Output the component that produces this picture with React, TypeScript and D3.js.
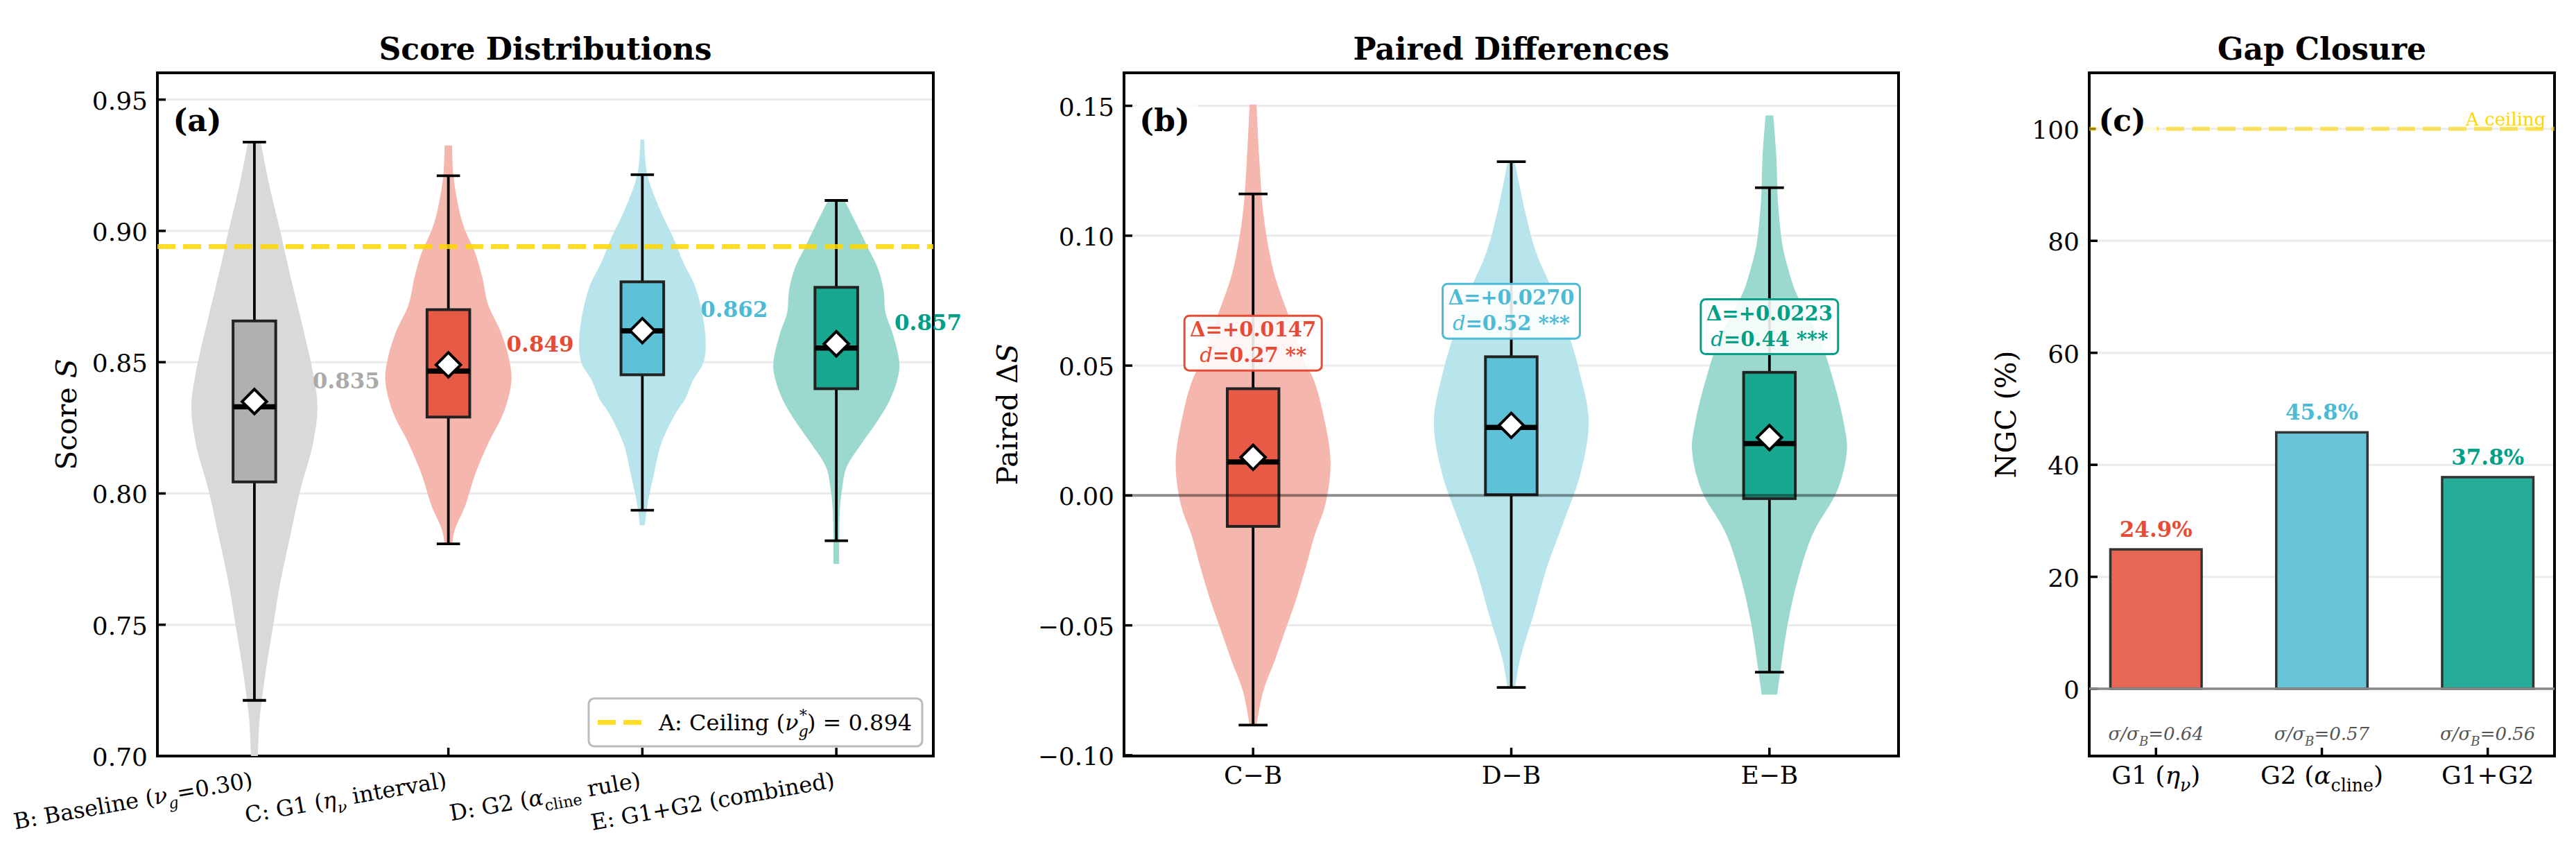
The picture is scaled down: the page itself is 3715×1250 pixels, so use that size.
import React from 'react';
import * as d3 from 'd3';

const FONT = '"DejaVu Serif", "Liberation Serif", serif';

type Pt = [number, number]; // [value, relative violin width]
type Seg = { t: string; it?: boolean; sub?: boolean; sup?: boolean; dx?: number };

// ---------- (a) score distributions ----------
const scoreMean = [0.835, 0.849, 0.862, 0.857];
const scoreMedian = [0.833, 0.8466, 0.8619, 0.8554];
const scoreQ1 = [0.8044, 0.8291, 0.8452, 0.8399];
const scoreQ3 = [0.8657, 0.870, 0.8806, 0.8785];
const scoreLo = [0.7212, 0.7808, 0.7936, 0.782];
const scoreHi = [0.9338, 0.921, 0.9214, 0.9116];
const ceilingScore = 0.894;
const scoreTicks = [0.70, 0.75, 0.80, 0.85, 0.90, 0.95];

const violinB: Pt[] = [
  [0.934, 0.10], [0.917, 0.24], [0.900, 0.41], [0.887, 0.53], [0.867, 0.73], [0.846, 0.93],
  [0.833, 1.0], [0.819, 0.93], [0.8015, 0.73], [0.784, 0.57], [0.766, 0.41], [0.7485, 0.29],
  [0.7306, 0.17], [0.713, 0.08], [0.695, 0.05],
];
const violinC: Pt[] = [
  [0.9325, 0.06], [0.921, 0.08], [0.907, 0.18], [0.900, 0.27], [0.892, 0.42], [0.882, 0.54],
  [0.872, 0.63], [0.8616, 0.83], [0.8515, 0.96], [0.843, 1.0], [0.831, 0.88], [0.819, 0.63],
  [0.807, 0.42], [0.7955, 0.27], [0.786, 0.10], [0.7808, 0.06],
];
const violinD: Pt[] = [
  [0.9348, 0.03], [0.9214, 0.08], [0.907, 0.30], [0.898, 0.48], [0.888, 0.65], [0.878, 0.85],
  [0.860, 1.0], [0.850, 0.97], [0.843, 0.80], [0.836, 0.68], [0.831, 0.54], [0.819, 0.30],
  [0.807, 0.18], [0.7955, 0.08], [0.7879, 0.04],
];
const violinE: Pt[] = [
  [0.9116, 0.13], [0.9026, 0.32], [0.8941, 0.49], [0.8857, 0.66], [0.8773, 0.75], [0.8689, 0.78],
  [0.8604, 0.90], [0.8495, 1.0], [0.8436, 0.97], [0.8352, 0.84], [0.8268, 0.63], [0.8183, 0.38],
  [0.8099, 0.16], [0.8015, 0.09], [0.7931, 0.055], [0.7732, 0.045],
];
const scoreViolins = [violinB, violinC, violinD, violinE];

const scoreTickLabels: Seg[][] = [
  [{ t: 'B: Baseline (' }, { t: 'ν', it: true }, { t: 'g', it: true, sub: true }, { t: '=0.30)' }],
  [{ t: 'C: G1 (' }, { t: 'η', it: true }, { t: 'ν', it: true, sub: true }, { t: ' interval)' }],
  [{ t: 'D: G2 (' }, { t: 'α', it: true }, { t: 'cline', sub: true }, { t: ' rule)' }],
  [{ t: 'E: G1+G2 (combined)' }],
];

// ---------- (b) paired differences ----------
const diffNames = ['C−B', 'D−B', 'E−B'];
const diffMean = [0.0147, 0.0270, 0.0223];
const diffMedian = [0.0129, 0.0262, 0.0200];
const diffQ1 = [-0.0119, 0.0003, -0.0012];
const diffQ3 = [0.0411, 0.0534, 0.0474];
const diffLo = [-0.0884, -0.0739, -0.0680];
const diffHi = [0.1161, 0.1285, 0.1185];
const diffEffect = ['0.27', '0.52', '0.44'];
const diffStars = ['**', '***', '***'];
const diffTicks = [-0.10, -0.05, 0.0, 0.05, 0.10, 0.15];

const violinCB: Pt[] = [
  [0.1505, 0.045], [0.1295, 0.08], [0.1091, 0.13], [0.0937, 0.21], [0.0835, 0.29], [0.0682, 0.47],
  [0.0528, 0.65], [0.0439, 0.79], [0.032, 0.90], [0.0129, 1.0], [-0.0038, 0.93], [-0.0157, 0.79],
  [-0.0277, 0.68], [-0.0396, 0.56], [-0.0515, 0.42], [-0.0635, 0.28], [-0.0754, 0.13], [-0.0884, 0.045],
];
const violinDB: Pt[] = [
  [0.1285, 0.045], [0.1091, 0.18], [0.0937, 0.32], [0.0784, 0.54], [0.063, 0.73], [0.0477, 0.88],
  [0.0284, 1.0], [0.0081, 0.89], [-0.0098, 0.68], [-0.0277, 0.46], [-0.0456, 0.29], [-0.0635, 0.11],
  [-0.0739, 0.05],
];
const violinEB: Pt[] = [
  [0.1463, 0.05], [0.130, 0.09], [0.113, 0.11], [0.096, 0.17], [0.0875, 0.24], [0.079, 0.33],
  [0.0704, 0.47], [0.0618, 0.63], [0.0448, 0.82], [0.0278, 0.96], [0.0176, 1.0], [0.0022, 0.88],
  [-0.0148, 0.56], [-0.0319, 0.37], [-0.0488, 0.24], [-0.066, 0.15], [-0.0767, 0.10],
];
const diffViolins = [violinCB, violinDB, violinEB];

// ---------- (c) gap closure ----------
const ngcValues = [24.9, 45.8, 37.8];
const sigmaRatios = ['0.64', '0.57', '0.56'];
const ngcTicks = [0, 20, 40, 60, 80, 100];
const ngcTickLabels: Seg[][] = [
  [{ t: 'G1 (' }, { t: 'η', it: true }, { t: 'ν', it: true, sub: true }, { t: ')' }],
  [{ t: 'G2 (' }, { t: 'α', it: true }, { t: 'cline', sub: true }, { t: ')' }],
  [{ t: 'G1+G2' }],
];

// palette: gray, red, blue, teal
const violinFill = ['#d9d9d9', '#f4b6ad', '#b8e4ec', '#9bd9ce'];
const boxFill = ['#b0b0b0', '#e65a46', '#5dc1d8', '#18a88f'];
const textColor = ['#aaaaaa', '#e64b35', '#4dbbd5', '#00a087'];
const barFill = ['#e86755', '#69c4da', '#26ac98'];
const GOLD = '#FFD700';

const TOP = 105;
const BOTTOM = 1090;

function rich(segs: Seg[], fs: number) {
  let shift = 0;
  return segs.map((s, i) => {
    const target = s.sub ? fs * 0.3 : s.sup ? -fs * 0.42 : 0;
    const dy = target - shift;
    shift = target;
    return (
      <tspan key={i} dy={dy !== 0 ? dy : undefined} dx={s.dx}
        fontStyle={s.it ? 'italic' : undefined}
        fontSize={s.sub || s.sup ? fs * 0.7 : undefined}>{s.t}</tspan>
    );
  });
}

function Frame({ left, right, yScale, ticks, fmt, title, ylabel, ylabelX, xTicks }: any) {
  const W = right - left;
  return (
    <g>
      {/* y grid */}
      {ticks.map((t: number) => (
        <line key={'g' + t} x1={left} x2={right} y1={yScale(t)} y2={yScale(t)} stroke="#ebebeb" strokeWidth={3} />
      ))}
      <text x={(left + right) / 2} y={86} textAnchor="middle" fontSize={44} fontWeight="bold">{title}</text>
      <g transform={`translate(${ylabelX},${(TOP + BOTTOM) / 2}) rotate(-90)`}>
        <text textAnchor="middle" fontSize={41}>{ylabel}</text>
      </g>
      {ticks.map((t: number) => (
        <g key={'t' + t}>
          <line x1={left} x2={left + 12} y1={yScale(t)} y2={yScale(t)} stroke="#000" strokeWidth={3.5} />
          <text x={left - 14} y={yScale(t) + 14} textAnchor="end" fontSize={36}>{fmt(t)}</text>
        </g>
      ))}
      {xTicks.map((x: number, i: number) => (
        <line key={'x' + i} x1={x} x2={x} y1={BOTTOM} y2={BOTTOM - 12} stroke="#000" strokeWidth={3.5} />
      ))}
      <rect x={left} y={TOP} width={W} height={BOTTOM - TOP} fill="none" stroke="#000" strokeWidth={4} />
    </g>
  );
}

function PanelTag({ left, right, label }: { left: number; right: number; label: string }) {
  const x = left + 0.02 * (right - left);
  return (
    <g>
      <rect x={x - 4} y={146} width={88} height={64} rx={6} fill="#fff" opacity={0.8} />
      <text x={x} y={189} fontSize={44} fontWeight="bold">{label}</text>
    </g>
  );
}

function ViolinBox({ cx, yScale, profile, halfW, boxW, capW, q1, q3, med, lo, hi, mean, vFill, bFill }: any) {
  const area = d3.area<Pt>()
    .y((d) => yScale(d[0]))
    .x0((d) => cx - d[1] * halfW)
    .x1((d) => cx + d[1] * halfW)
    .curve(d3.curveCatmullRom.alpha(0.5));
  const diamond = d3.symbol(d3.symbolSquare, 630)();
  return {
    violin: <path d={area(profile) || ''} fill={vFill} />,
    box: (
      <g>
        <line x1={cx} x2={cx} y1={yScale(q3)} y2={yScale(hi)} stroke="#000" strokeWidth={3.8} />
        <line x1={cx} x2={cx} y1={yScale(q1)} y2={yScale(lo)} stroke="#000" strokeWidth={3.8} />
        <line x1={cx - capW / 2} x2={cx + capW / 2} y1={yScale(hi)} y2={yScale(hi)} stroke="#000" strokeWidth={3.8} />
        <line x1={cx - capW / 2} x2={cx + capW / 2} y1={yScale(lo)} y2={yScale(lo)} stroke="#000" strokeWidth={3.8} />
        <rect x={cx - boxW / 2} y={yScale(q3)} width={boxW} height={yScale(q1) - yScale(q3)}
          fill={bFill} stroke="#222" strokeWidth={4} />
        <line x1={cx - boxW / 2} x2={cx + boxW / 2} y1={yScale(med)} y2={yScale(med)} stroke="#000" strokeWidth={7.5} />
        <path d={diamond || ''} transform={`translate(${cx},${yScale(mean)}) rotate(45)`}
          fill="#fff" stroke="#000" strokeWidth={4} />
      </g>
    ),
  };
}

export default function App() {
  // panel geometry
  const aL = 227, aR = 1346;
  const bL = 1621, bR = 2738;
  const cL = 3013, cR = 3684;

  const xA = d3.scaleLinear().domain([-0.5, 3.5]).range([aL, aR]);
  const yA = d3.scaleLinear().domain([0.70, 0.9602]).range([BOTTOM, TOP]);
  const xB = d3.scaleLinear().domain([-0.5, 2.5]).range([bL, bR]);
  const yB = d3.scaleLinear().domain([-0.1003, 0.1627]).range([BOTTOM, TOP]);
  const xC = d3.scaleLinear().domain([-0.4025, 2.4025]).range([cL, cR]);
  const yC = d3.scaleLinear().domain([-12, 110]).range([BOTTOM, TOP]);

  const unitA = xA(1) - xA(0);
  const unitB = xB(1) - xB(0);
  const unitC = xC(1) - xC(0);

  const groupsA = scoreMean.map((m, i) => ViolinBox({
    cx: xA(i), yScale: yA, profile: scoreViolins[i], halfW: unitA * 0.325, boxW: unitA * 0.22, capW: unitA * 0.12,
    q1: scoreQ1[i], q3: scoreQ3[i], med: scoreMedian[i], lo: scoreLo[i], hi: scoreHi[i], mean: m,
    vFill: violinFill[i], bFill: boxFill[i],
  }));
  const groupsB = diffMean.map((m, i) => ViolinBox({
    cx: xB(i), yScale: yB, profile: diffViolins[i], halfW: unitB * 0.3, boxW: unitB * 0.2, capW: unitB * 0.112,
    q1: diffQ1[i], q3: diffQ3[i], med: diffMedian[i], lo: diffLo[i], hi: diffHi[i], mean: m,
    vFill: violinFill[i + 1], bFill: boxFill[i + 1],
  }));

  // legend sits in the lower-right corner of panel (a)
  const legendR = aR - 16, legendB = BOTTOM - 14;
  const legendL = legendR - 481, legendT = legendB - 69;
  const legendY = (legendT + legendB) / 2;

  return (
    <svg width={3715} height={1250} fontFamily={FONT}
      style={{ position: 'absolute', left: 0, top: 0, background: '#fff' }}>
      <defs>
        <clipPath id="clipA"><rect x={aL} y={TOP} width={aR - aL} height={BOTTOM - TOP} /></clipPath>
        <clipPath id="clipB"><rect x={bL} y={TOP} width={bR - bL} height={BOTTOM - TOP} /></clipPath>
      </defs>
      <rect width={3715} height={1250} fill="#fff" />

      {/* ---------------- (a) ---------------- */}
      <Frame left={aL} right={aR} yScale={yA} ticks={scoreTicks} fmt={(t: number) => t.toFixed(2)}
        title="Score Distributions" ylabelX={110}
        ylabel={<>Score <tspan fontStyle="italic">S</tspan></>}
        xTicks={scoreMean.map((_, i) => xA(i))} />
      <g clipPath="url(#clipA)">
        {groupsA.map((g, i) => <g key={i}>{g.violin}</g>)}
        {groupsA.map((g, i) => <g key={i}>{g.box}</g>)}
        <line x1={aL} x2={aR} y1={yA(ceilingScore)} y2={yA(ceilingScore)} stroke={GOLD} strokeOpacity={0.85}
          strokeWidth={7} strokeDasharray="26 11" />
      </g>
      {scoreMean.map((m, i) => (
        <text key={i} x={xA(i + 0.3)} y={yA(m + 0.008) + 11} fontSize={31} fontWeight="bold" fill={textColor[i]}>
          {m.toFixed(3)}
        </text>
      ))}
      {scoreTickLabels.map((segs, i) => (
        <text key={i} transform={`translate(${xA(i) - 1},${BOTTOM + 45}) rotate(-10)`} textAnchor="end" fontSize={32}>
          {rich(segs, 32)}
        </text>
      ))}
      <PanelTag left={aL} right={aR} label="(a)" />
      <g>
        <rect x={legendL} y={legendT} width={481} height={69} rx={8} fill="#fff" fillOpacity={0.9} stroke="#bbb" strokeWidth={3} />
        <line x1={legendL + 13} x2={legendL + 76} y1={legendY} y2={legendY} stroke={GOLD} strokeOpacity={0.85}
          strokeWidth={7} strokeDasharray="26 11" />
        <text x={legendL + 101} y={legendY + 11} fontSize={32}>
          {rich([{ t: 'A: Ceiling (' }, { t: 'ν', it: true }, { t: 'g', it: true, sub: true },
            { t: '*', sup: true, dx: -13 }, { t: ') = ' + ceilingScore.toFixed(3) }], 32)}
        </text>
      </g>

      {/* ---------------- (b) ---------------- */}
      <Frame left={bL} right={bR} yScale={yB} ticks={diffTicks}
        fmt={(t: number) => (t < 0 ? '−' : '') + Math.abs(t).toFixed(2)}
        title="Paired Differences" ylabelX={1467}
        ylabel={<>Paired Δ<tspan fontStyle="italic">S</tspan></>}
        xTicks={diffMean.map((_, i) => xB(i))} />
      <g clipPath="url(#clipB)">
        {groupsB.map((g, i) => <g key={i}>{g.violin}</g>)}
        {groupsB.map((g, i) => <g key={i}>{g.box}</g>)}
        <line x1={bL} x2={bR} y1={yB(0)} y2={yB(0)} stroke="#000" strokeOpacity={0.4} strokeWidth={4} />
      </g>
      {diffMean.map((m, i) => {
        const cx = xB(i);
        const bottom = yB(diffQ3[i] + 0.007);
        const top = bottom - 79;
        return (
          <g key={i}>
            <rect x={cx - 99} y={top} width={198} height={79} rx={7} fill="#fff" fillOpacity={0.88}
              stroke={textColor[i + 1]} strokeWidth={3} />
            <text x={cx} y={top + 30} textAnchor="middle" fontSize={29} fontWeight="bold" fill={textColor[i + 1]}>
              {'Δ=+' + m.toFixed(4)}
            </text>
            <text x={cx} y={top + 67} textAnchor="middle" fontSize={29} fontWeight="bold" fill={textColor[i + 1]}>
              <tspan fontStyle="italic" fontWeight="normal">d</tspan>{'=' + diffEffect[i] + ' ' + diffStars[i]}
            </text>
          </g>
        );
      })}
      {diffNames.map((n, i) => (
        <text key={i} x={xB(i)} y={BOTTOM + 40} textAnchor="middle" fontSize={36}>{n}</text>
      ))}
      <PanelTag left={bL} right={bR} label="(b)" />

      {/* ---------------- (c) ---------------- */}
      <Frame left={cL} right={cR} yScale={yC} ticks={ngcTicks} fmt={(t: number) => String(t)}
        title="Gap Closure" ylabelX={2907}
        ylabel="NGC (%)"
        xTicks={ngcValues.map((_, i) => xC(i))} />
      <line x1={cL} x2={cR} y1={yC(100)} y2={yC(100)} stroke={GOLD} strokeOpacity={0.6}
        strokeWidth={6} strokeDasharray="26 11" />
      <text x={xC(2.35)} y={yC(100) - 5} textAnchor="end" fontSize={26} fill={GOLD}>A ceiling</text>
      {ngcValues.map((v, i) => (
        <rect key={i} x={xC(i) - unitC * 0.275} y={yC(v)} width={unitC * 0.55} height={yC(0) - yC(v)}
          fill={barFill[i]} stroke="#333" strokeWidth={3.5} />
      ))}
      <line x1={cL} x2={cR} y1={yC(0)} y2={yC(0)} stroke="#888" strokeWidth={3.5} />
      {ngcValues.map((v, i) => (
        <text key={i} x={xC(i)} y={yC(v) - 18} textAnchor="middle" fontSize={31} fontWeight="bold" fill={textColor[i + 1]}>
          {v.toFixed(1) + '%'}
        </text>
      ))}
      {sigmaRatios.map((r, i) => (
        <text key={i} x={xC(i)} y={yC(-8) + 9} textAnchor="middle" fontSize={26} fontStyle="italic" fill="#555">
          {rich([{ t: 'σ/σ' }, { t: 'B', sub: true }, { t: '=' + r }], 26)}
        </text>
      ))}
      {ngcTickLabels.map((segs, i) => (
        <text key={i} x={xC(i)} y={BOTTOM + 40} textAnchor="middle" fontSize={36}>{rich(segs, 36)}</text>
      ))}
      <PanelTag left={cL} right={cR} label="(c)" />
    </svg>
  );
}
